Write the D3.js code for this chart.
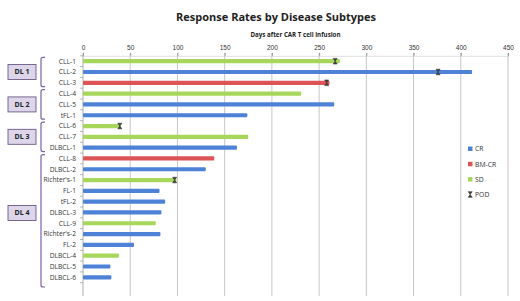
<!DOCTYPE html>
<html>
<head>
<meta charset="utf-8">
<script src="https://cdn.jsdelivr.net/npm/d3@7"></script>
<style>
  body { margin: 0; background: #fff; }
  svg { font-family: "Open Sans", "Liberation Sans", sans-serif; }
</style>
</head>
<body>
<svg id="chart" width="520" height="301"></svg>
<script>
"use strict";

// data
const subjects = ["CLL-1", "CLL-2", "CLL-3", "CLL-4", "CLL-5", "tFL-1", "CLL-6", "CLL-7", "DLBCL-1",
  "CLL-8", "DLBCL-2", "Richter's-1", "FL-1", "tFL-2", "DLBCL-3", "CLL-9", "Richter's-2", "FL-2",
  "DLBCL-4", "DLBCL-5", "DLBCL-6"];
const days = [272, 412, 261, 231, 266, 174, 40, 175, 163, 139, 130, 99, 81, 87, 83, 77, 82, 54, 38, 29, 30];
const response = ["SD", "CR", "BM-CR", "SD", "CR", "CR", "SD", "SD", "CR", "BM-CR", "CR", "SD", "CR", "CR",
  "CR", "SD", "CR", "CR", "SD", "CR", "CR"];
const podSubjects = ["CLL-1", "CLL-2", "CLL-3", "CLL-6", "Richter's-1"];
const podDays = [267, 376, 258, 39, 97];
const doseLevels = ["DL 1", "DL 2", "DL 3", "DL 4"];
const doseFirst = ["CLL-1", "CLL-4", "CLL-6", "CLL-8"];
const doseLast = ["CLL-3", "tFL-1", "DLBCL-1", "DLBCL-6"];
const legendKeys = ["CR", "BM-CR", "SD"];
const xTicks = [0, 50, 100, 150, 200, 250, 300, 350, 400, 450];

const colours = { "CR": "#4d82d6", "BM-CR": "#dc5455", "SD": "#a6d75b" };
const svg = d3.select("#chart");

const x = d3.scaleLinear().domain([0, 450]).range([83, 508]);
// one empty slot at the bottom, as in the original
const y = d3.scaleBand().domain(subjects.concat([""])).range([55.8, 293.5]);

svg.append("text")
  .attr("x", 276).attr("y", 21)
  .attr("text-anchor", "middle")
  .style("font-size", "11px").style("font-weight", "bold").style("fill", "#222")
  .text("Response Rates by Disease Subtypes");

svg.append("text")
  .attr("x", 295.5).attr("y", 37)
  .attr("text-anchor", "middle")
  .style("font-size", "6.2px").style("font-weight", "bold").style("fill", "#222")
  .text("Days after CAR T cell infusion");

/* gridlines and top axis */
svg.append("g").selectAll("line")
  .data(xTicks.slice(1))
  .join("line")
  .attr("x1", d => x(d)).attr("x2", d => x(d))
  .attr("y1", 53).attr("y2", 296)
  .attr("stroke", "#b8b8b8").attr("stroke-width", 0.8);

const xAxis = svg.append("g")
  .attr("transform", "translate(0,55.8)")
  .call(d3.axisTop(x).tickValues(xTicks).tickSize(3).tickPadding(3));
xAxis.select(".domain").attr("stroke", "#c8c8c8").attr("stroke-width", 0.6);
xAxis.selectAll(".tick line").attr("stroke", "#999");
xAxis.selectAll("text").style("font-size", "6.5px").style("fill", "#333").style("font-family", "inherit");

/* left axis with ticks between categories */
const yAxis = svg.append("g").attr("transform", "translate(83,0)");
yAxis.append("line")
  .attr("x1", 0).attr("x2", 0).attr("y1", 53).attr("y2", 296)
  .attr("stroke", "#999").attr("stroke-width", 0.8);
yAxis.selectAll("line.tk")
  .data(y.domain())
  .join("line")
  .attr("class", "tk")
  .attr("x1", -3).attr("x2", 0)
  .attr("y1", d => y(d)).attr("y2", d => y(d))
  .attr("stroke", "#999").attr("stroke-width", 0.7);
yAxis.selectAll("text")
  .data(subjects)
  .join("text")
  .attr("x", -7)
  .attr("y", d => y(d) + y.bandwidth() / 2)
  .attr("dy", "0.35em")
  .attr("text-anchor", "end")
  .style("font-size", "6.7px").style("fill", "#333")
  .text(d => d);

/* bars */
const barH = 4.2;
svg.append("g").selectAll("rect")
  .data(subjects)
  .join("rect")
  .attr("x", x(0))
  .attr("y", d => y(d) + y.bandwidth() / 2 - barH / 2)
  .attr("width", (d, i) => x(days[i]) - x(0))
  .attr("height", barH)
  .attr("rx", 1)
  .attr("fill", (d, i) => colours[response[i]]);

/* POD marker: hourglass */
function hourglass(cx, cy) {
  return `M${cx - 2},${cy - 2.8}H${cx + 2}L${cx - 2},${cy + 2.8}H${cx + 2}Z`;
}
svg.append("g").selectAll("path")
  .data(podSubjects)
  .join("path")
  .attr("d", (d, i) => hourglass(x(podDays[i]), y(d) + y.bandwidth() / 2))
  .attr("fill", "#444").attr("stroke", "#333").attr("stroke-width", 0.6);

/* dose level brackets and labels */
const bracketX = 41;
doseLevels.forEach((dl, i) => {
  let top = y(doseFirst[i]) + 1.5;
  let bot = y(doseLast[i]) + y.bandwidth() - 1.5;
  if (i === 3) bot = 287;
  svg.append("path")
    .attr("d", `M${bracketX + 4},${top}H${bracketX + 2}Q${bracketX},${top} ${bracketX},${top + 2}` +
      `V${bot - 2}Q${bracketX},${bot} ${bracketX + 2},${bot}H${bracketX + 4}`)
    .attr("fill", "none").attr("stroke", "#7b62a6").attr("stroke-width", 1.2);
  let mid = (top + bot) / 2;
  if (i === 3) mid = 213;
  svg.append("rect")
    .attr("x", 8).attr("y", mid - 7.5)
    .attr("width", 28).attr("height", 15)
    .attr("fill", "#ddd5ea").attr("stroke", "#6b5a86").attr("stroke-width", 0.9);
  svg.append("text")
    .attr("x", 22).attr("y", mid)
    .attr("dy", "0.35em")
    .attr("text-anchor", "middle")
    .style("font-size", "7px").style("font-weight", "bold").style("fill", "#222")
    .text(dl);
});

/* legend */
const legend = svg.append("g").attr("transform", "translate(468,0)");
legendKeys.forEach((k, i) => {
  const ly = 149 + i * 15.3;
  legend.append("rect")
    .attr("x", 0).attr("y", ly - 2.5).attr("width", 4.5).attr("height", 4.5)
    .attr("fill", colours[k]);
  legend.append("text")
    .attr("x", 7).attr("y", ly).attr("dy", "0.35em")
    .style("font-size", "6.8px").style("fill", "#333")
    .text(k);
});
legend.append("path")
  .attr("d", hourglass(2.2, 194.5))
  .attr("fill", "#444").attr("stroke", "#333").attr("stroke-width", 0.6);
legend.append("text")
  .attr("x", 7).attr("y", 194.5).attr("dy", "0.35em")
  .style("font-size", "6.8px").style("fill", "#333")
  .text("POD");
</script>
</body>
</html>
